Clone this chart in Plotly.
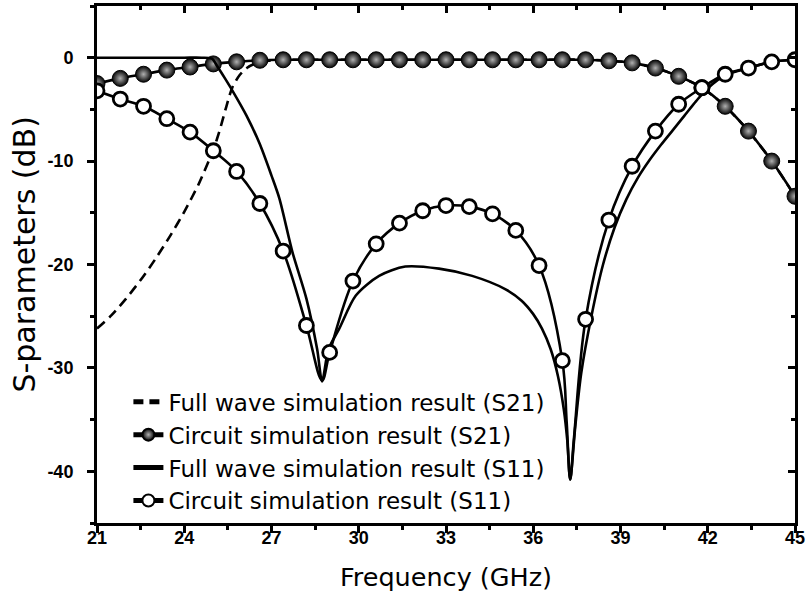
import plotly.graph_objects as go

# ---------------- data ----------------
# circuit simulation sample frequencies (GHz) – marker positions
freq_circ = [21.0, 21.8, 22.6, 23.4, 24.2, 25.0, 25.8, 26.6, 27.4, 28.2, 29.0,
             29.8, 30.6, 31.4, 32.2, 33.0, 33.8, 34.6, 35.4, 36.2, 37.0,
             37.8, 38.6, 39.4, 40.2, 41.0, 41.8, 42.6, 43.4, 44.2, 45.0]

s21_circ = [-2.5, -2.0, -1.6, -1.2, -0.9, -0.6, -0.4, -0.25, -0.2, -0.2, -0.2,
            -0.2, -0.2, -0.2, -0.2, -0.2, -0.2, -0.2, -0.2, -0.2, -0.2,
            -0.2, -0.3, -0.5, -1.0, -1.8, -2.9, -4.7, -7.1, -10.0, -13.4]

s11_circ = [-3.2, -4.0, -4.7, -5.9, -7.2, -9.0, -11.0, -14.1, -18.7, -25.9, -28.5,
            -21.6, -18.0, -16.0, -14.8, -14.3, -14.4, -15.1, -16.7, -20.1, -29.3,
            -25.3, -15.7, -10.5, -7.1, -4.5, -2.9, -1.6, -1.0, -0.4, -0.2]

# extra read points of the circuit S11 curve at the two resonance dips (no marker)
s11_circ_dip_f = [28.74, 37.15, 37.27, 37.40]
s11_circ_dip_db = [-31.2, -35.3, -40.8, -36.8]

# full wave simulation, S21 (dashed)
freq_fw21 = [21.0, 21.5, 22.0, 22.5, 23.0, 23.5, 24.0, 24.5, 24.87, 25.0, 25.2,
             25.45, 25.65, 25.9, 26.15, 26.5, 27.0, 28.0, 30.0, 33.0, 36.0,
             38.0, 39.4, 40.2, 41.0, 41.8, 42.6, 43.4, 44.2, 45.0]
s21_fw = [-26.2, -24.9, -23.3, -21.5, -19.5, -17.3, -14.9, -12.2, -9.8, -8.9, -7.2,
          -4.7, -2.9, -1.7, -1.0, -0.5, -0.25, -0.2, -0.2, -0.2, -0.2,
          -0.2, -0.5, -1.0, -1.8, -2.9, -4.7, -7.1, -10.0, -13.4]

# full wave simulation, S11 (solid)
freq_fw11 = [21.0, 22.0, 23.0, 24.0, 24.6, 24.95, 25.15, 25.4, 25.66, 26.14, 26.59,
             27.0, 27.27, 27.72, 28.2, 28.57, 28.74, 28.96, 29.33, 29.9, 30.7,
             31.6, 32.76, 33.9, 35.05, 35.6, 36.0, 36.3, 36.6, 36.85, 37.05,
             37.17, 37.27, 37.45, 37.65, 38.0, 38.4, 38.8, 39.2, 39.6, 40.0,
             40.4, 40.8, 41.2, 41.6, 42.0, 42.6, 43.4, 44.2, 45.0]
s11_fw = [0.0, 0.0, 0.0, 0.0, 0.0, -0.1, -0.9, -2.0, -3.2, -5.6, -8.3,
          -11.4, -13.6, -18.8, -23.3, -28.2, -31.3, -28.2, -26.2, -23.0, -21.1,
          -20.2, -20.4, -21.1, -22.4, -23.5, -24.8, -26.2, -28.2, -30.8, -34.0,
          -37.0, -40.8, -35.5, -30.5, -25.0, -20.0, -16.4, -13.7, -11.6, -9.9,
          -8.4, -7.0, -5.6, -4.2, -2.95, -1.7, -1.0, -0.4, -0.2]

legend_names = ["Full wave simulation result (S21)",
                "Circuit simulation result (S21)",
                "Full wave simulation result (S11)",
                "Circuit simulation result (S11)"]

x_title = "Frequency (GHz)"
y_title = "S-parameters (dB)"

x_tickvals = [21, 24, 27, 30, 33, 36, 39, 42, 45]
x_ticktext = ["21", "24", "27", "30", "33", "36", "39", "42", "45"]
y_tickvals = [0, -10, -20, -30, -40]
y_ticktext = ["0", "-10", "-20", "-30", "-40"]

# ---------------- figure ----------------
FONT = "Liberation Sans, Arial, sans-serif"
TFONT = "DejaVu Sans, Liberation Sans, sans-serif"
MS = 14

# circuit S11: markers on the sample points, plus marker-less dip points for the curve
pts = sorted([(f, v, MS) for f, v in zip(freq_circ, s11_circ)] +
             [(f, v, 0) for f, v in zip(s11_circ_dip_f, s11_circ_dip_db)])
c11_x = [p[0] for p in pts]
c11_y = [p[1] for p in pts]
c11_s = [p[2] for p in pts]

fig = go.Figure()

fig.add_trace(go.Scatter(
    x=freq_fw21, y=s21_fw, mode="lines", name=legend_names[0],
    line=dict(color="black", width=2.6, dash="10px,6px", shape="spline",
              smoothing=0.8)))

fig.add_trace(go.Scatter(
    x=freq_circ, y=s21_circ, mode="lines+markers", name=legend_names[1],
    line=dict(color="black", width=2.6, shape="spline"),
    marker=dict(size=MS + 2, color="#050505", symbol="circle",
                gradient=dict(type="radial", color="#b0b0b0"),
                line=dict(color="black", width=1))))

fig.add_trace(go.Scatter(
    x=freq_fw11, y=s11_fw, mode="lines", name=legend_names[2],
    line=dict(color="black", width=2.6, shape="spline", smoothing=0.8)))

# drawn on the mirrored (top/right) axes pair so those frame axes get rendered
fig.add_trace(go.Scatter(
    x=c11_x, y=c11_y, mode="lines+markers", name=legend_names[3],
    xaxis="x2", yaxis="y2",
    line=dict(color="black", width=2.6, shape="spline"),
    marker=dict(size=c11_s, color="white", symbol="circle", opacity=1,
                line=dict(color="black", width=2.8))))

axis_common = dict(showgrid=False, zeroline=False, showline=True,
                   linecolor="black", linewidth=3)

fig.update_layout(
    width=811, height=601, autosize=False,
    margin=dict(l=97, r=14, t=6, b=78, pad=0),
    paper_bgcolor="white", plot_bgcolor="white",
    font=dict(family=FONT, color="black"),
    showlegend=True,
    legend=dict(x=0.045, y=0.276, xanchor="left", yanchor="top",
                bgcolor="rgba(0,0,0,0)", borderwidth=0,
                font=dict(family=TFONT, size=23, color="black"),
                tracegroupgap=0, itemsizing="constant"),
    xaxis=dict(range=[21, 45], tickmode="array", tickvals=x_tickvals,
               ticktext=x_ticktext, ticks="outside", ticklen=7, tickwidth=2.5,
               tickcolor="black", ticklabelstandoff=-11,
               minor=dict(dtick=1.5, tick0=21, ticks="outside", ticklen=4,
                          tickwidth=2.5, tickcolor="black"),
               tickfont=dict(family=FONT, size=18, weight="bold"),
               **axis_common),
    yaxis=dict(range=[-45, 5], tickmode="array", tickvals=y_tickvals,
               ticktext=y_ticktext, ticks="outside", ticklen=7, tickwidth=2.5,
               tickcolor="black", ticklabelstandoff=10,
               minor=dict(dtick=5, tick0=0, ticks="outside", ticklen=4,
                          tickwidth=2.5, tickcolor="black"),
               tickfont=dict(family=FONT, size=18, weight="bold"),
               **axis_common),
    xaxis2=dict(range=[21, 45], overlaying="x", side="top", anchor="y2",
                tickmode="array", tickvals=x_tickvals, showticklabels=False,
                ticks="inside", ticklen=7, tickwidth=2.5, tickcolor="black",
                minor=dict(dtick=1.5, tick0=21, ticks="inside", ticklen=4,
                           tickwidth=2.5, tickcolor="black"),
                **axis_common),
    yaxis2=dict(range=[-45, 5], overlaying="y", side="right", anchor="x2",
                tickmode="array", tickvals=y_tickvals, showticklabels=False,
                ticks="inside", ticklen=7, tickwidth=2.5, tickcolor="black",
                minor=dict(dtick=5, tick0=0, ticks="inside", ticklen=4,
                           tickwidth=2.5, tickcolor="black"),
                **axis_common),
    annotations=[
        dict(text=x_title, xref="paper", yref="paper", x=0.5, y=-0.105,
             xanchor="center", yanchor="middle", showarrow=False,
             font=dict(family=TFONT, size=25.5, color="black")),
        dict(text=y_title, xref="paper", yref="paper", x=-0.104, y=0.52,
             xanchor="center", yanchor="middle", textangle=-90, showarrow=False,
             font=dict(family=TFONT, size=30, color="black")),
    ],
)

fig.write_html("out.html")
